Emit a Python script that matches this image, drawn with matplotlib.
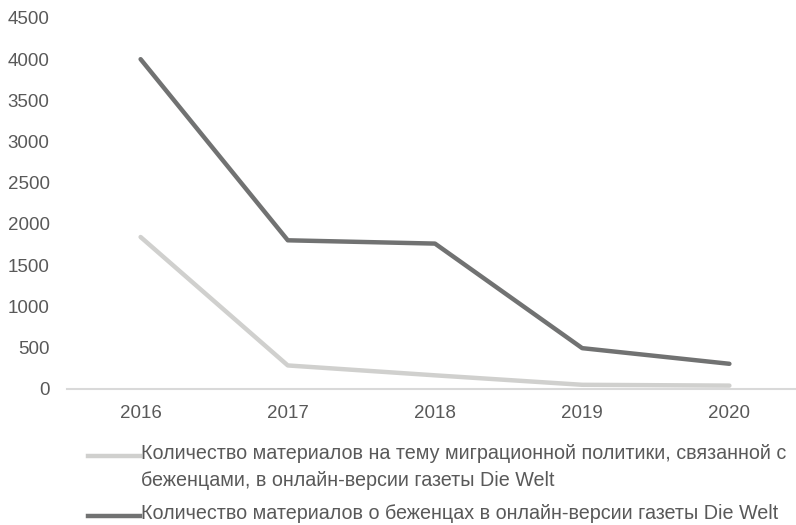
import matplotlib.pyplot as plt
from matplotlib.lines import Line2D

years = ["2016", "2017", "2018", "2019", "2020"]
policy_refugees = [1840, 280, 160, 45, 35]
refugees_total = [4000, 1800, 1760, 490, 300]

label_policy = ("Количество материалов на тему миграционной политики, связанной с\n"
                "беженцами, в онлайн-версии газеты Die Welt")
label_total = "Количество материалов о беженцах в онлайн-версии газеты Die Welt"

plt.rcParams['font.family'] = ['Liberation Sans', 'DejaVu Sans']

light = "#d0d0ce"
dark = "#717272"
text_col = "#595959"
W, H = 796, 525

fig = plt.figure(figsize=(W / 100, H / 100), dpi=100)
ax = fig.add_axes([67 / W, 1 - 388.5 / H, (803 - 67) / W, 370.5 / H])

x = range(len(years))
ax.plot(x, policy_refugees, color=light, lw=3.2, solid_capstyle="round", solid_joinstyle="round")
ax.plot(x, refugees_total, color=dark, lw=3.2, solid_capstyle="round", solid_joinstyle="round")

ax.set_xlim(-0.5, 4.5)
ax.set_ylim(0, 4500)
ax.set_yticks(range(0, 4501, 500))
ax.set_xticks(list(x))
ax.set_xticklabels(years)
ax.tick_params(axis="both", length=0, labelsize=13.5, colors=text_col)
ax.tick_params(axis="y", pad=12.5)
ax.tick_params(axis="x", pad=12)
for side in ["top", "right", "left"]:
    ax.spines[side].set_visible(False)
ax.spines["bottom"].set_color("#d9d9d9")
ax.spines["bottom"].set_linewidth(1.5)

# legend drawn by hand so the swatch sits on the first text line
entries = [(light, label_policy, 456), (dark, label_total, 516)]
for col, label, ypix in entries:
    fig.add_artist(Line2D([88 / W, 140 / W], [1 - ypix / H, 1 - ypix / H],
                          color=col, lw=3.2, transform=fig.transFigure))
    fig.text(141 / W, 1 - (ypix - 12) / H, label, color=text_col, fontsize=14.2,
             ha="left", va="top", linespacing=1.55)

fig.savefig("out.png", dpi=100)
